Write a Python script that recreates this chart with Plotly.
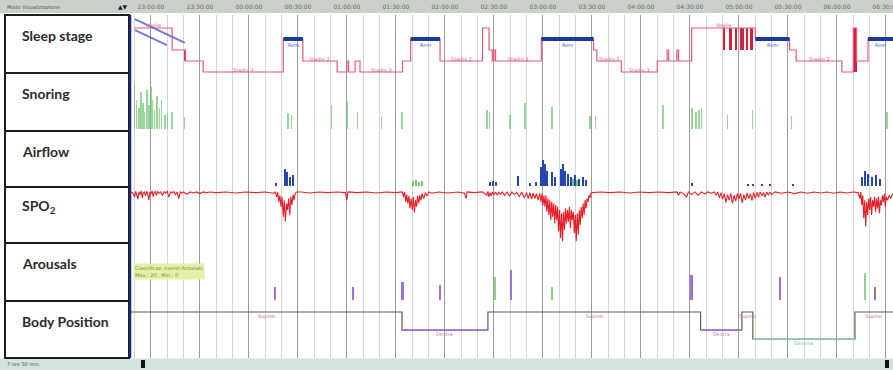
import pandas as pd
import plotly.graph_objects as go

# ---------------- data ----------------
T0 = pd.Timestamp("2021-01-01 23:00:00")          # reference clock time (minutes are counted from here)
view_min = [-12.2, 454.3]                           # visible window, minutes from 23:00

# Hypnogram (minutes from 23:00, stage index)
stage_names = ["Stadio 3", "Stadio 2", "Stadio 1", "Rem", "Veglia"]
hyp_min = [-10, 13, 21, 32, 81, 93, 114, 120, 121, 125, 128, 154, 159, 177, 203, 207, 209, 210, 211,
           239, 271, 273, 288, 310, 316, 317, 322, 323, 331, 370, 391, 395, 423, 430, 432, 439, 454.3]
hyp_stage = [4, 2, 1, 0, 3, 1, 0, 1, 0, 1, 0, 1, 3, 1, 4, 2, 1, 2, 1,
             3, 2, 1, 0, 1, 2, 1, 2, 1, 4, 3, 2, 1, 0, 4, 1, 3, 3]

# rapid stage alternations drawn as thick blocks
burst_start = [20, 350, 354, 357.5, 360.5, 364, 366.5, 430]
burst_end = [21.5, 351.5, 355.5, 359, 363, 365.5, 368.5, 432]
burst_top = [2, 4, 4, 4, 4, 4, 4, 4]
burst_bottom = [1, 2, 2, 2, 2, 2, 2, 0]

# diagonal "lights off" markers
lights_a_min = [-9.8, 20.8]
lights_a_lvl = [4.8, 2.64]
lights_b_min = [-9.8, 9.8]
lights_b_lvl = [3.8, 2.45]

# Snoring events
snore_min = [-9.8, -8.6, -7.3, -6.1, -4.9, -3.7, -2.4, -1.2, 0.0, 1.2, 2.4, 3.7, 5.5, 6.7, 8.6, 10.4,
             12.9, 20.8, 83.9, 86.3, 110.8, 120.0, 126.7, 141.4, 153.7, 205.7, 207.5, 219.8, 229.0,
             245.5, 268.8, 272.4, 313.5, 331.2, 333.7, 335.5, 337.3, 353.2, 368.5, 392.4, 450.6]
snore_amp = [0.78, 0.52, 0.38, 0.66, 0.47, 0.31, 0.69, 0.43, 0.76, 0.52, 0.34, 0.59, 0.38, 0.52, 0.26, 0.29,
             0.31, 0.22, 0.29, 0.26, 0.43, 0.48, 0.31, 0.24, 0.31, 0.34, 0.31, 0.26, 0.47,
             0.40, 0.24, 0.24, 0.43, 0.38, 0.31, 0.34, 0.38, 0.26, 0.34, 0.24, 0.31]

# Airflow events (blue = apnea/hypopnea, green = other)
flow_min = [76.5, 82.0, 83.3, 85.1, 86.9, 207.5, 209.4, 211.2, 224.7, 232.0, 235.7, 238.8, 240.0,
            241.2, 242.4, 245.5, 247.3, 251.0, 252.2, 253.5, 255.3, 257.1, 259.6, 262.0, 264.5, 266.3,
            331.2, 365.5, 368.5, 374.0, 379.0, 393.0, 435.3, 437.1, 439.0, 441.4, 443.9, 446.3]
flow_amp = [0.05, 0.30, 0.25, 0.16, 0.20, 0.07, 0.09, 0.07, 0.18, 0.05, 0.07, 0.34, 0.48,
            0.39, 0.27, 0.25, 0.16, 0.30, 0.39, 0.27, 0.21, 0.16, 0.20, 0.12, 0.16, 0.11,
            0.05, 0.03, 0.03, 0.03, 0.03, 0.03, 0.16, 0.27, 0.21, 0.16, 0.20, 0.12]
flow2_min = [160.4, 162.2, 164.1, 166.0, 258.4, 260.8]
flow2_amp = [0.09, 0.10, 0.08, 0.09, 0.12, 0.10]

# SpO2 (%), minutes from 23:00
spo2_pts = [
    (-12, 95), (-11, 94.6), (-10, 93.5), (-9.3, 95.2), (-8.6, 94), (-8, 92.8), (-7.3, 95), (-6.6, 94.2),
    (-6, 95.3), (-5.3, 93.2), (-4.6, 94.8), (-4, 95), (-3.3, 93.8), (-2.6, 95.2), (-2, 94.5), (-1.3, 92.5),
    (-0.6, 95), (0, 94.4), (0.7, 95.3), (1.4, 93.6), (2, 94.9), (2.7, 95.1), (3.4, 94), (4, 95.2),
    (5, 94.6), (6, 95), (7, 93.9), (8, 95.1), (9, 94.7), (10, 95.2), (11, 93.4), (12, 95), (13, 94.8),
    (14, 95.1), (15, 94.2), (16, 95), (17, 92.9), (18, 95.1), (19, 94.6), (20, 95), (22, 94.3), (24, 95),
    (26, 94.7), (28, 95), (30, 94.5), (32, 95), (34, 94.8), (36, 95), (40, 94.8), (46, 95), (52, 94.7),
    (58, 95), (64, 94.8), (70, 95), (75, 94.6),
    (76, 95), (77, 93.5), (77.6, 95), (78.3, 92), (79, 94), (79.6, 90.5), (80.3, 93.5), (81, 87.5), (81.6, 92.5),
    (82.3, 86), (83, 91.5), (83.6, 89.5), (84.3, 93), (85, 88), (85.6, 93.5), (86.3, 91), (87, 94.2),
    (87.6, 92.5), (88.3, 94.5), (89, 95),
    (92, 95), (97, 94.7), (103, 95), (108, 94.8), (114, 95), (119, 94.8), (120, 92.5), (120.6, 95),
    (126, 94.8), (132, 95), (138, 94.7), (144, 95), (150, 94.8), (154, 95),
    (154.6, 93.5), (155.3, 95), (156, 92), (156.6, 94.2), (157.3, 91.5), (158, 93.8), (158.6, 90), (159.3, 93),
    (160, 89.5), (160.6, 93.5), (161.3, 88.8), (162, 92.5), (162.6, 90.5), (163.3, 93.8), (164, 91.5),
    (164.6, 94), (165.3, 92.5), (166, 94.5), (167, 93), (168, 94.8), (169, 93.8), (170, 95), (172, 94.6),
    (176, 95), (182, 94.7), (188, 95), (192, 94.6), (193, 93), (193.6, 95), (198, 94.8), (203, 95),
    (205.6, 94), (206.3, 95.2), (207, 93.5), (207.6, 94.8), (208.3, 93.8), (209, 95), (210, 94.2),
    (211, 95), (212, 94), (213, 94.9), (214, 94.3), (215, 95), (216.5, 94), (218, 95), (219.5, 93.8),
    (221, 95), (222.5, 94.2), (224, 94.9), (225.5, 93.5), (227, 95), (228.5, 93.2), (230, 94.8),
    (231, 93), (232, 94.8), (233, 92.8), (234, 94.6), (235, 93), (236, 94.5), (237, 92.5), (238, 94.6),
    (238.8, 92), (239.4, 94.5), (240, 91), (240.6, 93.8), (241.2, 90.5), (241.8, 94), (242.4, 89),
    (243, 93), (243.6, 88), (244.2, 92.5), (244.8, 86.5), (245.4, 92), (246, 87.5), (246.6, 91.5),
    (247.2, 85.5), (247.8, 91), (248.4, 86.5), (249, 90.5), (249.6, 83), (250.2, 89.5), (250.8, 81),
    (251.4, 88.5), (252, 80), (252.6, 89), (253.2, 83.5), (253.8, 90), (254.4, 85.5), (255, 89.5),
    (255.6, 86), (256.2, 90.5), (256.8, 84), (257.4, 89.5), (258, 86.5), (258.6, 89), (259.2, 82.5),
    (259.8, 88), (260.4, 80), (261, 88.5), (261.6, 82), (262.2, 89.5), (262.8, 85), (263.4, 90.5),
    (264, 87), (264.6, 91.5), (265.2, 88), (265.8, 92.5), (266.4, 90), (267, 93), (267.6, 92),
    (268.2, 94), (268.8, 93.2), (269.4, 94.5), (270, 94.8),
    (275, 95), (281, 94.8), (287, 95), (293, 94.7), (299, 95), (305, 94.8), (311, 95), (317, 94.8),
    (322, 95), (323, 94), (324, 95), (326, 94.5), (328, 93.5), (329, 95), (331, 94.2), (333, 95),
    (335, 94), (337, 95), (339, 94.4), (341, 95), (343, 94.6), (345, 95),
    (346, 94), (347, 95), (348, 93.2), (349, 94.8), (350, 92.8), (351, 94.5), (352, 91.8), (353, 94.2),
    (354, 92.5), (355, 94.6), (356, 91.5), (357, 94), (358, 92.2), (359, 94.5), (360, 92.8), (361, 94.6),
    (362, 91.7), (363, 94.2), (364, 92.5), (365, 94.7), (366, 93), (367, 94.5), (368, 92.4), (369, 94.8),
    (370, 93), (371, 94.9), (372, 93.4), (373, 95), (374, 93.8), (375, 94.8), (376, 93.4), (377, 95),
    (378, 94), (379, 95), (380, 94.2),
    (382, 95), (386, 94.6), (390, 95), (394, 94.5), (398, 95), (402, 94.6), (406, 95), (410, 94.7),
    (414, 95), (418, 94.6), (422, 95), (426, 94.7), (430, 95), (433, 94.8),
    (434, 93), (434.6, 95), (435.2, 91), (435.8, 94), (436.4, 87), (437, 92.5), (437.6, 84.5),
    (438.2, 92), (438.8, 88), (439.4, 93), (440, 89.5), (440.6, 93.5), (441.2, 88), (441.8, 92.5),
    (442.4, 90.5), (443, 93.5), (443.6, 89), (444.2, 93), (444.8, 90), (445.4, 93.5), (446, 88.5),
    (446.6, 92.5), (447.2, 91), (447.8, 94), (448.4, 92), (449, 94.5), (449.6, 90.5), (450.2, 93.5),
    (451, 92.5), (452, 94), (453, 93), (454, 94.5),
]
spo2_min = [p[0] for p in spo2_pts]
spo2_val = [p[1] for p in spo2_pts]

# Arousals
arousal_min = [75.9, 123.7, 154.3, 177.0, 210.6, 220.4, 245.5, 331.2, 385.1, 437.1, 443.2]
arousal_amp = [0.22, 0.22, 0.31, 0.26, 0.40, 0.52, 0.22, 0.43, 0.40, 0.47, 0.22]
arousal_dur = [0.6, 0.6, 1.2, 0.6, 0.6, 0.8, 0.6, 1.8, 0.8, 0.6, 0.8]
arousal_kind = ["A", "A", "A", "A", "B", "A", "B", "A", "A", "B", "C"]

# Body position
pos_min = [-12.2, 153.7, 206.3, 336.5, 361.8, 368.5, 431.0, 454.3]
pos_name = ["Supino", "Destra", "Supino", "Destra", "Supino", "Sinistra", "Supino", "Supino"]

row_labels = ["Sleep stage", "Snoring", "Airflow", "SPO<sub>2</sub>", "Arousals", "Body Position"]

# ---------------- helpers / styling ----------------
W, H = 893, 370


def tm(m):
    return (T0 + pd.Timedelta(minutes=m)).strftime("%Y-%m-%d %H:%M:%S")


def tl(ms):
    return [tm(m) for m in ms]


def py(p):  # pixel-from-top -> paper
    return 1 - p / H


rows_px = [(15, 73), (73, 131), (131, 187), (187, 243), (243, 301), (301, 358)]
x_left_px = 131
pos_level = {"Supino": 3, "Destra": 1, "Sinistra": 0}
pos_color = {"Supino": "#5e5e4e", "Destra": "#b46fd9", "Sinistra": "#8fd8b8"}
pos_text = {"Supino": "#d86a8a", "Destra": "#b46fd9", "Sinistra": "#6cc49a"}
arousal_color = {"A": "#a070d8", "B": "#8cd08c", "C": "#9c7a70"}
MIN_MS = 60000

fig = go.Figure()

# --- Sleep stage ---
fig.add_trace(go.Scatter(x=tl(hyp_min), y=hyp_stage, mode="lines", line=dict(shape="hv", color="#e8587a", width=1.2),
                         xaxis="x", yaxis="y"))
rx, ry = [], []
for i in range(len(hyp_min) - 1):
    if hyp_stage[i] == 3:
        rx += [tm(hyp_min[i]), tm(hyp_min[i + 1]), None]
        ry += [3, 3, None]
fig.add_trace(go.Scatter(x=rx, y=ry, mode="lines", line=dict(color="#1c3a9c", width=4), xaxis="x", yaxis="y"))
fig.add_trace(go.Bar(x=[tm((a + b) / 2) for a, b in zip(burst_start, burst_end)],
                     width=[(b - a) * MIN_MS for a, b in zip(burst_start, burst_end)],
                     base=burst_bottom, y=[t - b for t, b in zip(burst_top, burst_bottom)],
                     marker=dict(color="#d4203c", line=dict(width=0)), xaxis="x", yaxis="y"))
for mins, lv in [(lights_a_min, lights_a_lvl), (lights_b_min, lights_b_lvl)]:
    fig.add_trace(go.Scatter(x=tl(mins), y=lv, mode="lines", line=dict(color="#5566cc", width=2),
                             opacity=0.85, xaxis="x", yaxis="y"))

# --- Snoring ---
fig.add_trace(go.Bar(x=tl(snore_min), y=snore_amp, width=0.7 * MIN_MS,
                     marker=dict(color="rgba(110,196,110,0.7)", line=dict(width=0)), xaxis="x", yaxis="y2"))

# --- Airflow ---
fig.add_trace(go.Bar(x=tl(flow_min), y=flow_amp, width=1.5 * MIN_MS,
                     marker=dict(color="#2846b0", line=dict(width=0)), xaxis="x", yaxis="y3"))
fig.add_trace(go.Bar(x=tl(flow2_min), y=flow2_amp, width=1.5 * MIN_MS,
                     marker=dict(color="#6fcf6f", line=dict(width=0)), xaxis="x", yaxis="y3"))

# --- SpO2 ---
fig.add_trace(go.Scatter(x=tl(spo2_min), y=spo2_val, mode="lines", line=dict(color="#e8202a", width=1.1),
                         xaxis="x", yaxis="y4"))

# --- Arousals ---
fig.add_trace(go.Bar(x=tl(arousal_min), y=arousal_amp, width=[d * MIN_MS for d in arousal_dur],
                     marker=dict(color=[arousal_color[k] for k in arousal_kind], line=dict(width=0)),
                     xaxis="x", yaxis="y5"))

# --- Body position ---
fig.add_trace(go.Scatter(x=tl(pos_min), y=[pos_level[n] for n in pos_name], mode="lines",
                         line=dict(shape="hv", color=pos_color["Supino"], width=1.2), xaxis="x", yaxis="y6"))
for name in ["Destra", "Sinistra"]:
    sx, sy = [], []
    for i in range(len(pos_min) - 1):
        if pos_name[i] == name:
            sx += [tm(pos_min[i]), tm(pos_min[i + 1]), None]
            sy += [pos_level[name]] * 2 + [None]
    fig.add_trace(go.Scatter(x=sx, y=sy, mode="lines", line=dict(color=pos_color[name], width=1.4),
                             xaxis="x", yaxis="y6"))

annotations = []
# stage labels
for i in range(len(hyp_min) - 1):
    dur = hyp_min[i + 1] - hyp_min[i]
    s = hyp_stage[i]
    if dur >= 10:
        mid = tm((hyp_min[i] + hyp_min[i + 1]) / 2)
        if s == 3:
            annotations.append(dict(x=mid, y=3, xref="x", yref="y", text="Rem", showarrow=False, yshift=-6,
                                    font=dict(size=5, color="#4a64b8", family="DejaVu Sans")))
        elif dur >= 15:
            annotations.append(dict(x=mid, y=s, xref="x", yref="y", text=stage_names[s], showarrow=False, yshift=2,
                                    font=dict(size=5, color="#e0607e", family="DejaVu Sans")))
# position labels
for i in range(len(pos_min) - 1):
    if pos_min[i + 1] - pos_min[i] > 5:
        n = pos_name[i]
        annotations.append(dict(x=tm((pos_min[i] + pos_min[i + 1]) / 2), y=pos_level[n], xref="x", yref="y6",
                                text=n, showarrow=False, yshift=-4,
                                font=dict(size=5, color=pos_text[n], family="DejaVu Sans")))
# arousal info box
annotations.append(dict(x=133 / W, y=py(262.5), xref="paper", yref="paper", xanchor="left", yanchor="top",
                        text="Classificaz. eventi Arousals<br>Max.: 20 , Min.: 0", showarrow=False, align="left",
                        bgcolor="#e3f0a6", borderpad=1,
                        font=dict(size=5, color="#7a8a50", family="DejaVu Sans")))
# row labels
for (top, bot), lab in zip(rows_px, row_labels):
    annotations.append(dict(x=20 / W, y=py(top + 20), xref="paper", yref="paper", xanchor="left", yanchor="middle",
                            text="<b>" + lab + "</b>", showarrow=False,
                            font=dict(size=14, color="#2b2b2b", family="Lato")))
# header / footer texts
annotations.append(dict(x=5 / W, y=py(6.5), xref="paper", yref="paper", xanchor="left", yanchor="middle",
                        text="Modo Visualizzazione", showarrow=False, font=dict(size=5, color="#555", family="DejaVu Sans")))
annotations.append(dict(x=123 / W, y=py(6.5), xref="paper", yref="paper", xanchor="center", yanchor="middle",
                        text="▲▼", showarrow=False, font=dict(size=6, color="#222", family="DejaVu Sans")))
annotations.append(dict(x=5 / W, y=py(364), xref="paper", yref="paper", xanchor="left", yanchor="middle",
                        text="7 ore 50 min.", showarrow=False, font=dict(size=5, color="#555", family="DejaVu Sans")))

shapes = [
    dict(type="rect", xref="paper", yref="paper", x0=0, x1=1, y0=py(13), y1=1, fillcolor="#c8d2ca",
         line=dict(width=0), layer="below"),
    dict(type="rect", xref="paper", yref="paper", x0=0, x1=1, y0=0, y1=py(358.5), fillcolor="#d3e2da",
         line=dict(width=0), layer="below"),
    dict(type="rect", xref="paper", yref="paper", x0=141 / W, x1=145 / W, y0=py(368), y1=py(360),
         fillcolor="#111", line=dict(width=0)),
    dict(type="rect", xref="paper", yref="paper", x0=885 / W, x1=889 / W, y0=py(368), y1=py(360),
         fillcolor="#111", line=dict(width=0)),
]
for top, bot in rows_px:
    shapes.append(dict(type="rect", xref="paper", yref="paper", x0=5 / W, x1=129 / W, y0=py(bot), y1=py(top),
                       line=dict(color="#1e1e1e", width=2), fillcolor="rgba(0,0,0,0)"))
shapes.append(dict(type="line", xref="paper", yref="paper", x0=130 / W, x1=130 / W, y0=py(358), y1=py(15),
                   line=dict(color="#1b2a6b", width=2.5)))

layout = dict(
    width=W, height=H, autosize=False, margin=dict(l=0, r=0, t=0, b=0, autoexpand=False),
    paper_bgcolor="white", plot_bgcolor="white", showlegend=False, barmode="overlay", bargap=0,
    annotations=annotations, shapes=shapes,
    xaxis=dict(type="date", domain=[x_left_px / W, 1], range=[tm(view_min[0]), tm(view_min[1])],
               anchor="y", side="top", tick0=tm(0), dtick=30 * MIN_MS, tickformat="%H:%M:%S",
               tickfont=dict(size=6, color="#6a6a6a", family="DejaVu Sans"), ticks="", ticklen=0,
               ticklabelstandoff=4, ticklabeloverflow="allow", automargin=False,
               showgrid=True, gridcolor="#9c9c9c", gridwidth=1, zeroline=False, showline=False,
               minor=dict(dtick=10 * MIN_MS, tick0=tm(0), showgrid=True, gridcolor="#d6d6d6", gridwidth=1)),
)
y_ranges = [[-0.09, 5.18], [-0.03, 1], [-0.02, 1], [79.5, 96.5], [-0.02, 1], [-2.1, 4.22]]
for k, ((top, bot), rng) in enumerate(zip(rows_px, y_ranges)):
    name = "yaxis" if k == 0 else "yaxis%d" % (k + 1)
    layout[name] = dict(domain=[py(bot), py(top)], range=rng, anchor="x", showgrid=False, zeroline=False,
                        showticklabels=False, ticks="", showline=False, fixedrange=True, automargin=False)

fig.update_layout(**layout)
fig.write_html("out.html")
